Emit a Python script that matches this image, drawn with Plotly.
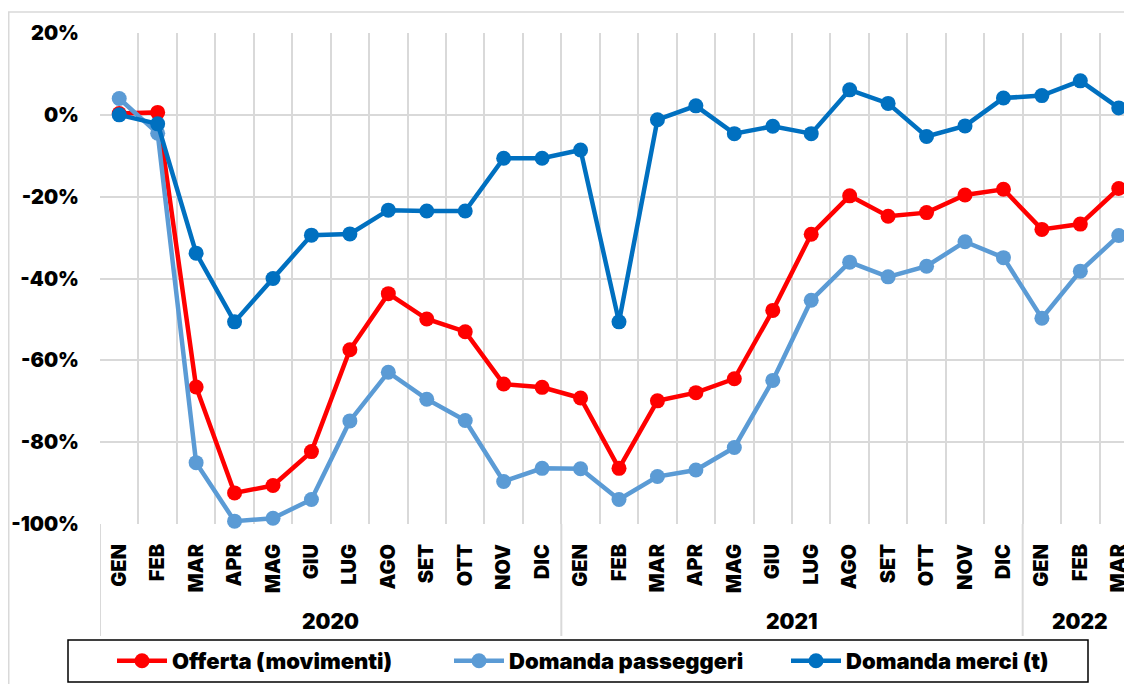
import plotly.graph_objects as go

months = ["GEN", "FEB", "MAR", "APR", "MAG", "GIU", "LUG", "AGO", "SET", "OTT", "NOV", "DIC",
          "GEN", "FEB", "MAR", "APR", "MAG", "GIU", "LUG", "AGO", "SET", "OTT", "NOV", "DIC",
          "GEN", "FEB", "MAR"]
years = ["2020"] * 12 + ["2021"] * 12 + ["2022"] * 3
year_labels = ["2020", "2021", "2022"]
y_ticks = [20, 0, -20, -40, -60, -80, -100]
y_ticktext = ["20%", "0%", "-20%", "-40%", "-60%", "-80%", "-100%"]

offerta = [0.3, 0.6, -66.5, -92.4, -90.6, -82.3, -57.4, -43.7, -49.9, -53.0, -65.8, -66.6,
           -69.2, -86.4, -69.9, -67.9, -64.5, -47.8, -29.2, -19.8, -24.8, -23.9, -19.6, -18.2,
           -28.0, -26.7, -18.0]
passeggeri = [4.0, -4.5, -85.0, -99.3, -98.6, -94.0, -74.8, -62.9, -69.5, -74.7, -89.6, -86.4,
              -86.5, -94.0, -88.4, -86.8, -81.3, -64.9, -45.3, -36.0, -39.6, -37.0, -31.0, -34.9,
              -49.7, -38.2, -29.5]
merci = [0.0, -2.2, -33.8, -50.6, -40.0, -29.4, -29.1, -23.3, -23.5, -23.5, -10.6, -10.6,
         -8.6, -50.6, -1.2, 2.2, -4.6, -2.8, -4.6, 6.1, 2.8, -5.3, -2.7, 4.1,
         4.7, 8.3, 1.7]

series = [
    ("Offerta (movimenti)", offerta, "#FF0000"),
    ("Domanda passeggeri", passeggeri, "#5B9BD5"),
    ("Domanda merci (t)", merci, "#0070C0"),
]

cats = [f"{m} {y}" for m, y in zip(months, years)]

FONT = "Inter"
fig = go.Figure()
for name, vals, col in series:
    fig.add_trace(go.Scatter(
        x=cats, y=vals, name=name, mode="lines+markers",
        line=dict(color=col, width=4.5),
        marker=dict(color=col, size=15),
        cliponaxis=False,
    ))

# the page places the figure 8px in from the top-left corner
OFF = 8
W, H = 1132, 684
L, T, B, R = 100 - OFF, 33 - OFF, 524 - OFF, 1138 - OFF
pw = R - L
ph = B - T

def px_x(p):
    return (p - OFF - L) / pw

def px_y(p):
    return (B - (p - OFF)) / ph

shapes = []
# outer chart border
shapes.append(dict(type="rect", xref="paper", yref="paper",
                   x0=px_x(8.75), x1=px_x(1160), y0=px_y(720), y1=px_y(12),
                   line=dict(color="#d9d9d9", width=1.5), fillcolor="rgba(0,0,0,0)", layer="below"))
# year dividers
for xv in [-0.5, 11.5, 23.5]:
    shapes.append(dict(type="line", xref="x", yref="paper", x0=xv, x1=xv,
                       y0=px_y(636), y1=0, line=dict(color="#d9d9d9", width=2), layer="below"))
# legend box
shapes.append(dict(type="rect", xref="paper", yref="paper",
                   x0=px_x(68), x1=px_x(1088), y0=px_y(682), y1=px_y(640),
                   line=dict(color="black", width=1.5), fillcolor="white", layer="above"))

annotations = []
for yl, cx in zip(year_labels, [5.5, 17.5, 25]):
    annotations.append(dict(x=cx, y=px_y(621), xref="x", yref="paper", text=yl,
                            xanchor="center", yanchor="middle",
                            showarrow=False, font=dict(family=FONT, size=21, color="black", weight=900)))

fig.update_layout(
    width=W, height=H,
    margin=dict(l=L, r=W - R, t=T, b=H - B, autoexpand=False),
    paper_bgcolor="white", plot_bgcolor="white",
    shapes=shapes, annotations=annotations,
    showlegend=True,
    legend=dict(orientation="h", xref="container", x=(112 - OFF) / W, xanchor="left",
                yref="container", y=1 - (661 - OFF) / H, yanchor="middle",
                borderwidth=0, bgcolor="rgba(0,0,0,0)",
                font=dict(family=FONT, size=22, color="black", weight=900),
                entrywidth=272, itemwidth=50),
    xaxis=dict(type="category", range=[-0.5, 26.5], tickmode="array", tickvals=cats,
               ticktext=months, tickangle=-90, automargin=False,
               tickson="boundaries", showgrid=True, gridcolor="#d9d9d9", gridwidth=2,
               ticks="", ticklabelstandoff=15,
               tickfont=dict(family=FONT, size=20, color="black", weight=900),
               showline=False, zeroline=False),
    yaxis=dict(range=[-100, 20], tickmode="array", tickvals=y_ticks, ticktext=y_ticktext,
               showgrid=True, automargin=False,
               gridcolor="#d9d9d9", gridwidth=2, zeroline=False, showline=False,
               ticklabelstandoff=20,
               tickfont=dict(family=FONT, size=20, color="black", weight=900)),
)

fig.write_html("out.html")
